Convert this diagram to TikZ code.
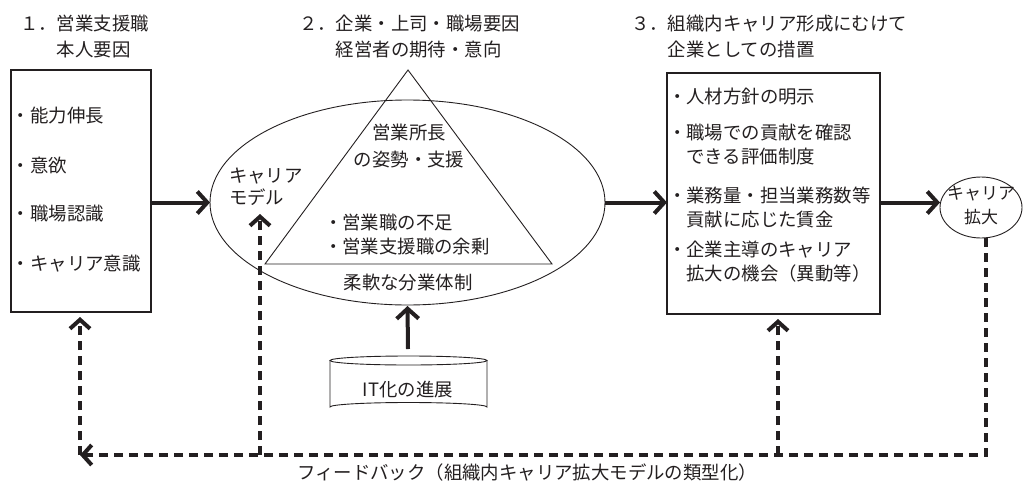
\documentclass[tikz,border=0pt]{standalone}
\usepackage{fontspec}
\setmainfont{Noto Sans CJK JP}
\usetikzlibrary{arrows.meta,calc,shapes.geometric}
\definecolor{ink}{HTML}{231F20}
\begin{document}
\begin{tikzpicture}[x=1pt,y=-1pt,
  every node/.style={inner sep=0pt, outer sep=0pt, text=ink,
    font=\fontsize{18.4}{24}\selectfont},
  txt/.style={anchor=west, align=left},
  ctxt/.style={align=center},
  boxshape/.style={draw=ink, line width=1.2pt},
  thinline/.style={draw=ink, line width=0.9pt},
  solidarrow/.style={draw=ink, line width=4pt, -{Straight Barb[length=10pt,width=22pt]}},
  dasharrow/.style={draw=ink, line width=4pt, dash pattern=on 9pt off 6pt,
    -{Straight Barb[length=9pt,width=20pt]}}]
\useasboundingbox (0,0) rectangle (1023,485);

% titles
\node[txt, font=\fontsize{18.4}{26}\selectfont] (t1) at (20,37) {１．営業支援職\\\phantom{１．}本人要因};
\node[txt, font=\fontsize{18.4}{26}\selectfont] (t2) at (299,37) {２．企業・上司・職場要因\\\phantom{２．}経営者の期待・意向};
\node[txt, font=\fontsize{18.4}{26}\selectfont] (t3) at (631,37) {３．組織内キャリア形成にむけて\\\phantom{３．}企業としての措置};

% box 1
\node[boxshape, minimum width=140pt, minimum height=242pt] (b1) at (81,191) {};
\node[txt] (i1) at (12,116) {・能力伸長};
\node[txt] (i2) at (12,166) {・意欲};
\node[txt] (i3) at (12,214) {・職場認識};
\node[txt] (i4) at (12,264) {・キャリア意識};

% ellipse and triangle
\node[thinline, ellipse, minimum width=395pt, minimum height=205pt] (el) at (407.5,202.5) {};
\coordinate (ta) at (408,70);
\coordinate (tl) at (265,264);
\coordinate (tr) at (552,264);
\draw[thinline] (ta) -- (tl) -- (tr) -- cycle;
\node[ctxt, font=\fontsize{18.4}{27}\selectfont] (sho) at (409,146) {営業所長\\の姿勢・支援};
\node[txt] (fus) at (324,235) {・営業職の不足\\・営業支援職の余剰};
\node (jun) at (408,283) {柔軟な分業体制};
\node[txt, font=\fontsize{18.4}{22}\selectfont] (cm) at (229,187) {キャリア\\モデル};

% box 3
\node[boxshape, minimum width=213pt, minimum height=241pt] (b3) at (773.5,193.5) {};
\node[txt] (m1) at (668,97) {・人材方針の明示};
\node[txt] (m2) at (668,145) {・職場での貢献を確認\\\phantom{・}できる評価制度};
\node[txt] (m3) at (668,207.5) {・業務量・担当業務数等\\\phantom{・}貢献に応じた賃金};
\node[txt] (m4) at (668,262) {・企業主導のキャリア\\\phantom{・}拡大の機会（異動等）};

% career expansion circle
\node[thinline, ellipse, minimum width=82pt, minimum height=61pt] (ca) at (981,207.5) {};
\node[ctxt, font=\fontsize{17}{24}\selectfont] (cat) at (981,205) {キャリア\\拡大};

% IT cylinder
\draw[thinline] (408.5,360.5) ellipse[x radius=78.5, y radius=4.5];
\draw[thinline] (330,360.5) -- (330,407) arc[start angle=180, end angle=360, x radius=78.5, y radius=4.5] -- (487,360.5);
\node (it) at (408,390) {IT化の進展};
\coordinate (ittop) at (408,349);

% solid arrows
\draw[solidarrow] (b1.east |- el.west) -- (el.west);
\draw[solidarrow] (el.east) -- (b3.west |- el.east);
\draw[solidarrow] (b3.east |- el.east) -- (ca.west |- el.east);
\draw[solidarrow] (ittop) -- ($(el.south)+(0,1)$);

% feedback loop
\coordinate (fbL) at (80,455);
\coordinate (fbM) at (260,455);
\coordinate (fb3) at (778,455);
\coordinate (cmtip) at (260,214);
\draw[dasharrow] ($(ca.south)+(5,0)$) |- (fbL);
\draw[dasharrow] (fbL) -- ($(b1.south)+(-1,5)$);
\draw[dasharrow] (fbM) -- (cmtip);
\draw[dasharrow] (fb3) -- ($(fb3 |- b3.south)+(0,5)$);
\node (fb) at (527,473) {フィードバック（組織内キャリア拡大モデルの類型化）};
\end{tikzpicture}
\end{document}
